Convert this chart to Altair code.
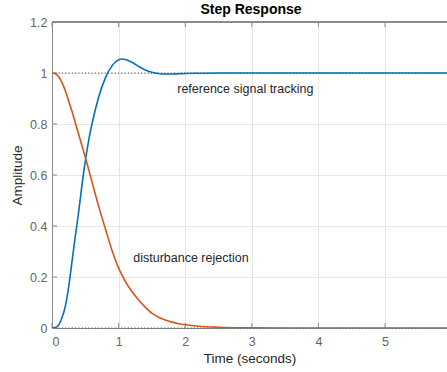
import altair as alt
import pandas as pd

# Sample times (seconds) and the two step responses
time = [0, 0.05, 0.1, 0.15, 0.2, 0.25, 0.3, 0.35, 0.4, 0.45, 0.5, 0.55, 0.6,
        0.7, 0.8, 0.9, 1.0, 1.05, 1.1, 1.2, 1.3, 1.4, 1.5, 1.6, 1.7, 1.8,
        1.9, 2.0, 2.2, 2.5, 3.0, 4.0, 5.0, 6.0]
tracking = [0.0, 0.002, 0.012, 0.04, 0.085, 0.16, 0.26, 0.36, 0.455, 0.56,
            0.655, 0.735, 0.80, 0.905, 0.98, 1.028, 1.052, 1.055, 1.053,
            1.042, 1.026, 1.012, 1.003, 0.998, 0.996, 0.996, 0.997, 0.998,
            0.999, 1.0, 1.0, 1.0, 1.0, 1.0]
rejection = [1.0, 0.997, 0.985, 0.962, 0.93, 0.89, 0.85, 0.805, 0.76, 0.715,
             0.67, 0.622, 0.574, 0.478, 0.39, 0.305, 0.235, 0.208, 0.183,
             0.143, 0.11, 0.082, 0.058, 0.042, 0.031, 0.023, 0.017, 0.013,
             0.007, 0.003, 0.0005, 0.0, 0.0, 0.0]

series_names = ["tracking", "rejection"]
series_colors = ["#0072BD", "#D95319"]

# Steady-state reference levels
steady_levels = [0, 1]

# Axis ticks
x_ticks = [0, 1, 2, 3, 4, 5]
y_ticks = [0, 0.2, 0.4, 0.6, 0.8, 1.0, 1.2]

# Curve labels
note_text = ["reference signal tracking", "disturbance rejection"]
note_t = [1.88, 1.22]
note_v = [0.937, 0.275]

chart_title = ["Step Response"]

X_MAX = 5.93
FONT = "Liberation Sans"
AXIS_GRAY = "#8a8a8a"

curves = pd.DataFrame({
    "t": time * 2,
    "v": tracking + rejection,
    "series": [series_names[0]] * len(time) + [series_names[1]] * len(time),
})
levels = pd.DataFrame({"v": steady_levels, "t0": [0] * 2, "t1": [X_MAX] * 2})
notes = pd.DataFrame({"text": note_text, "t": note_t, "v": note_v})
heading = pd.DataFrame({"text": chart_title})
xt = pd.DataFrame({"t": x_ticks})
yt = pd.DataFrame({"v": y_ticks})

x_scale = alt.Scale(domain=[0, X_MAX], nice=False, zero=False)
y_scale = alt.Scale(domain=[0, 1.2], nice=False)

x_axis = alt.Axis(
    values=x_ticks, format="~g", tickSize=0, labelPadding=7,
    labelFontSize=12.5, labelColor="#666666", labelFont=FONT,
    domainColor=AXIS_GRAY, gridColor="#e6e6e6",
    title="Time (seconds)", titleFont=FONT, titleFontSize=13.5,
    titleFontWeight="normal", titleColor="#262626",
    titleBaseline="alphabetic", titleY=34,
)
y_axis = alt.Axis(
    values=y_ticks, format="~g", tickSize=0, labelPadding=5,
    labelFontSize=12.5, labelColor="#666666", labelFont=FONT,
    domainColor=AXIS_GRAY, gridColor="#e6e6e6",
    title="Amplitude", titleFont=FONT, titleFontSize=13.5,
    titleFontWeight="normal", titleColor="#262626",
    titleAngle=270, titleBaseline="alphabetic", titleAlign="center",
    titleX=-30.5, titleY=153,
)

frame = alt.Chart(curves).mark_point(opacity=0).encode(
    x=alt.X("t:Q", scale=x_scale, axis=x_axis),
    y=alt.Y("v:Q", scale=y_scale, axis=y_axis),
)

top_border = alt.Chart(xt).mark_rule(color=AXIS_GRAY, strokeWidth=1).encode(
    x=alt.value(0), x2=alt.value(395), y=alt.value(0)
)

# Inward tick marks on bottom, top and left edges
bottom_ticks = alt.Chart(xt).mark_rule(color=AXIS_GRAY).encode(
    x=alt.X("t:Q", scale=x_scale), y=alt.value(306), y2=alt.value(301)
)
top_ticks = alt.Chart(xt).mark_rule(color=AXIS_GRAY).encode(
    x=alt.X("t:Q", scale=x_scale), y=alt.value(0), y2=alt.value(5)
)
left_ticks = alt.Chart(yt).mark_rule(color=AXIS_GRAY).encode(
    y=alt.Y("v:Q", scale=y_scale), x=alt.value(0), x2=alt.value(5)
)

steady = alt.Chart(levels).mark_rule(
    color="#333333", strokeWidth=1, strokeDash=[1, 2.3]
).encode(
    x=alt.X("t0:Q", scale=x_scale),
    x2="t1:Q",
    y=alt.Y("v:Q", scale=y_scale),
)

lines = alt.Chart(curves).mark_line(
    strokeWidth=1.6, interpolate="monotone", clip=True
).encode(
    x=alt.X("t:Q", scale=x_scale),
    y=alt.Y("v:Q", scale=y_scale),
    color=alt.Color("series:N", scale=alt.Scale(domain=series_names, range=series_colors), legend=None),
    detail="series:N",
)

labels = alt.Chart(notes).mark_text(
    align="left", baseline="middle", font=FONT, fontSize=12.5, color="#262626"
).encode(
    x=alt.X("t:Q", scale=x_scale),
    y=alt.Y("v:Q", scale=y_scale),
    text="text:N",
)

# Chart heading, centred over the plot area
title_mark = alt.Chart(heading).mark_text(
    align="center", baseline="alphabetic", font=FONT, fontSize=14,
    fontWeight="bold", color="#000000",
).encode(
    x=alt.value(199), y=alt.value(-8), text="text:N"
)

chart = alt.layer(
    frame, steady, bottom_ticks, top_ticks, left_ticks, top_border, lines,
    labels, title_mark
).properties(
    width=395,
    height=306,
    autosize=alt.AutoSizeParams(type="none"),
    padding={"left": 52, "top": 22, "right": 0, "bottom": 44},
).configure_view(stroke=None).configure(background="white")

chart.save("out.html", embed_options={"renderer": "svg", "actions": False})
